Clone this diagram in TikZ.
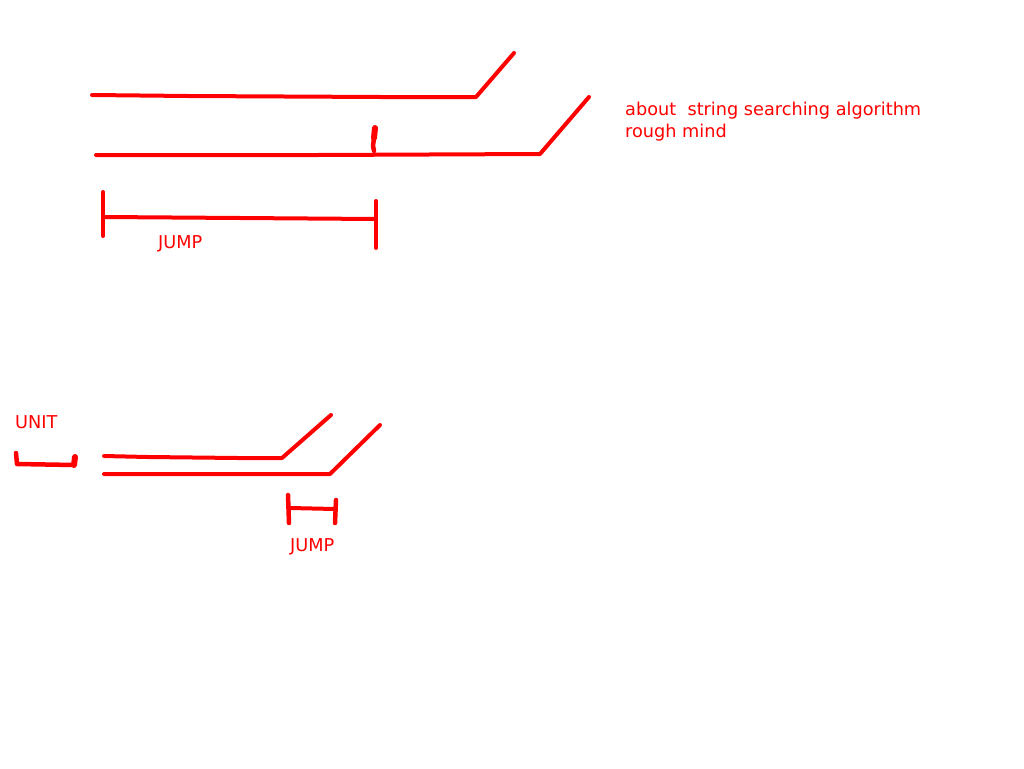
\documentclass[tikz,border=0pt]{standalone}
\usepackage{fontspec}
\setmainfont{DejaVu Sans}
\begin{document}
\begin{tikzpicture}[x=1pt,y=-1pt,
  stroke/.style={draw=red,line width=4pt,line cap=round,line join=round},
  thick stroke/.style={draw=red,line width=4.5pt,line cap=round,line join=round},
  blob/.style={draw=red,line width=6pt,line cap=round,line join=round},
  lbl/.style={text=red,font=\fontsize{17.7}{22}\selectfont,anchor=base west,inner sep=0pt}]
\useasboundingbox[fill=white] (0,0) rectangle (1024,768);
% top drawing
\draw[stroke] (92,95) -- (188,96) -- (380,97) -- (476,97) -- (514,53);
\draw[stroke] (96,155) -- (318,155) -- (540,154) -- (589,97);
\draw[blob] (375,128) -- (374,138);
\draw[thick stroke] (374,138) -- (373,146) -- (374,151);
\draw[stroke] (103,192) -- (103,236);
\draw[stroke] (104,217) -- (240,218) -- (376,219);
\draw[stroke] (376,201) -- (376,248);
\node[lbl] (jump1) at (158,248) {JUMP};
\node[lbl] (title) at (625,115) {about\ \ string searching algorithm};
\node[lbl] (title2) at (625,137) {rough mind};
% bottom drawing
\node[lbl] (unit) at (15,428) {UNIT};
\draw[thick stroke] (16,453) -- (17,464) -- (74,465);
\draw[blob] (74,465) -- (75,457);
\draw[stroke] (104,456) -- (148,457) -- (238,458) -- (282,458) -- (331,415);
\draw[stroke] (104,474) -- (330,474) -- (380,425);
\draw[thick stroke] (288,495) -- (289,523);
\draw[stroke] (290,508) -- (335,509);
\draw[thick stroke] (336,500) -- (335,523);
\node[lbl] (jump2) at (290,551) {JUMP};
\end{tikzpicture}
\end{document}
